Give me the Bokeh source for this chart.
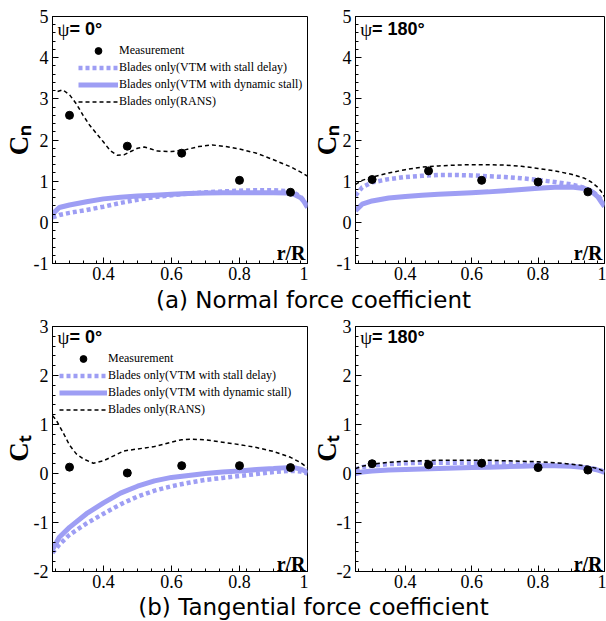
import numpy as np
from bokeh.plotting import figure
from bokeh.models import (Range1d, FixedTicker, Label, Legend, LegendItem,
                          CustomJSTickFormatter)
from bokeh.layouts import column, row
from bokeh.embed import file_html
from bokeh.resources import INLINE

# ---------------- data ----------------
r_sim = [0.25, 0.27, 0.30, 0.35, 0.40, 0.45, 0.50, 0.55, 0.60, 0.65,
         0.70, 0.75, 0.80, 0.85, 0.90, 0.94, 0.96, 0.98, 0.99, 1.00]

meas_r = [0.30, 0.47, 0.63, 0.80, 0.95]

# (a) Normal force coefficient, psi = 0
meas_cn_0 = [2.60, 1.85, 1.68, 1.02, 0.73]
sd_cn_0 = [0.12, 0.18, 0.23, 0.30, 0.38, 0.47, 0.55, 0.61, 0.66, 0.70,
           0.73, 0.75, 0.77, 0.78, 0.78, 0.76, 0.72, 0.62, 0.52, 0.38]
ds_cn_0 = [0.20, 0.36, 0.42, 0.50, 0.57, 0.61, 0.64, 0.66, 0.68, 0.70,
           0.71, 0.72, 0.72, 0.72, 0.72, 0.71, 0.68, 0.60, 0.50, 0.36]
rans_r_cn_0 = [0.265, 0.28, 0.30, 0.32, 0.34, 0.36, 0.38, 0.40, 0.42, 0.44,
               0.46, 0.48, 0.50, 0.52, 0.54, 0.56, 0.60, 0.64, 0.68, 0.72,
               0.76, 0.80, 0.85, 0.90, 0.95, 0.98, 1.00]
rans_cn_0 = [3.18, 3.22, 3.10, 2.88, 2.60, 2.35, 2.15, 1.95, 1.74, 1.63,
             1.64, 1.72, 1.80, 1.83, 1.78, 1.73, 1.72, 1.76, 1.84, 1.88,
             1.84, 1.78, 1.68, 1.52, 1.35, 1.22, 1.12]

# (a) Normal force coefficient, psi = 180
meas_cn_180 = [1.04, 1.25, 1.02, 0.98, 0.74]
sd_cn_180 = [0.65, 0.85, 0.97, 1.05, 1.10, 1.13, 1.15, 1.15, 1.14, 1.12,
             1.10, 1.07, 1.03, 0.98, 0.92, 0.84, 0.77, 0.65, 0.55, 0.42]
ds_cn_180 = [0.28, 0.44, 0.52, 0.59, 0.63, 0.66, 0.68, 0.70, 0.72, 0.74,
             0.77, 0.80, 0.83, 0.85, 0.86, 0.82, 0.76, 0.62, 0.50, 0.38]
rans_cn_180 = [0.92, 1.02, 1.10, 1.20, 1.28, 1.34, 1.37, 1.39, 1.40, 1.40,
               1.39, 1.36, 1.31, 1.25, 1.17, 1.07, 0.98, 0.85, 0.75, 0.62]

# (b) Tangential force coefficient, psi = 0
meas_ct_0 = [0.13, 0.01, 0.16, 0.16, 0.12]
sd_ct_0 = [-1.62, -1.45, -1.25, -1.02, -0.82, -0.63, -0.47, -0.35, -0.26, -0.19,
           -0.13, -0.09, -0.05, -0.01, 0.03, 0.05, 0.05, 0.04, 0.02, 0.00]
ds_ct_0 = [-1.55, -1.30, -1.10, -0.82, -0.60, -0.40, -0.26, -0.15, -0.08, -0.04,
           0.00, 0.03, 0.05, 0.08, 0.10, 0.12, 0.12, 0.09, 0.06, 0.02]
rans_r_ct_0 = [0.25, 0.26, 0.28, 0.30, 0.32, 0.34, 0.37, 0.40, 0.43, 0.46,
               0.50, 0.55, 0.60, 0.63, 0.66, 0.70, 0.75, 0.80, 0.85, 0.90,
               0.95, 0.98, 1.00]
rans_ct_0 = [1.18, 1.10, 0.85, 0.58, 0.40, 0.30, 0.21, 0.26, 0.36, 0.46,
             0.50, 0.55, 0.64, 0.69, 0.70, 0.69, 0.64, 0.59, 0.53, 0.45,
             0.33, 0.22, 0.12]

# (b) Tangential force coefficient, psi = 180
meas_ct_180 = [0.20, 0.18, 0.21, 0.12, 0.07]
sd_ct_180 = [0.08, 0.13, 0.16, 0.19, 0.21, 0.22, 0.22, 0.22, 0.22, 0.21,
             0.21, 0.20, 0.19, 0.18, 0.16, 0.13, 0.11, 0.08, 0.06, 0.03]
ds_ct_180 = [0.00, 0.03, 0.05, 0.07, 0.08, 0.09, 0.10, 0.11, 0.12, 0.13,
             0.14, 0.15, 0.16, 0.16, 0.15, 0.12, 0.10, 0.07, 0.05, 0.02]
rans_ct_180 = [0.10, 0.15, 0.19, 0.23, 0.25, 0.26, 0.27, 0.27, 0.27, 0.27,
               0.26, 0.25, 0.24, 0.22, 0.19, 0.16, 0.13, 0.10, 0.07, 0.04]

x_ticks = [0.4, 0.6, 0.8, 1.0]
cn_ticks = [-1, 0, 1, 2, 3, 4, 5]
ct_ticks = [-2, -1, 0, 1, 2, 3]

legend_labels = ["Measurement",
                 "Blades only(VTM with stall delay)",
                 "Blades only(VTM with dynamic stall)",
                 "Blades only(RANS)"]

BLUE = "#9e9ef4"
SERIF = "Liberation Serif"
SANS = "Liberation Sans"
XPP = 256 / 0.75  # frame pixels per r/R unit


def make_panel(width, height, bl, br, bt, bb, ylo, yhi, yticks, ylabel,
               lab_standoff):
    p = figure(width=width, height=height, output_backend="svg",
               toolbar_location=None, min_border_left=bl, min_border_right=br,
               min_border_top=bt, min_border_bottom=bb,
               x_range=Range1d(0.25, 1.0), y_range=Range1d(ylo, yhi))
    p.grid.visible = False
    p.outline_line_color = "black"
    p.outline_line_width = 1
    p.background_fill_color = "white"
    p.border_fill_color = "white"
    xminor = [round(v, 2) for v in np.arange(0.26, 1.0, 0.04)]
    yminor = [round(v, 2) for v in np.arange(ylo, yhi + 0.001, 0.2)]
    p.xaxis.ticker = FixedTicker(ticks=x_ticks, minor_ticks=xminor)
    p.yaxis.ticker = FixedTicker(ticks=yticks, minor_ticks=yminor)
    fmt = "return (Math.round(tick*10)/10).toString();"
    for ax in (p.xaxis[0], p.yaxis[0]):
        ax.formatter = CustomJSTickFormatter(code=fmt)
        ax.major_tick_in = 6
        ax.major_tick_out = 0
        ax.minor_tick_in = 3
        ax.minor_tick_out = 0
        ax.axis_line_color = "black"
        ax.major_tick_line_color = "black"
        ax.minor_tick_line_color = "black"
        ax.major_label_text_font = SERIF
        ax.major_label_text_font_size = "18px"
        ax.major_label_text_color = "black"
    p.xaxis.major_label_standoff = 3
    p.yaxis.major_label_standoff = 4
    p.yaxis.axis_label = ylabel
    p.yaxis.axis_label_text_font = SERIF
    p.yaxis.axis_label_text_font_size = "27px"
    p.yaxis.axis_label_text_font_style = "bold"
    p.yaxis.axis_label_text_color = "black"
    p.yaxis.axis_label_standoff = lab_standoff
    return p


def draw_series(p, r_rans, rans, sd, ds, meas):
    rd = p.line(r_sim, ds, color=BLUE, line_width=5)
    rs = p.line(r_sim, sd, color=BLUE, line_width=4.5, line_dash="4 3")
    rr = p.line(r_rans, rans, color="black", line_width=1.5, line_dash="4 3")
    rm = p.scatter(meas_r, meas, size=8, color="black")
    return rm, rs, rd, rr


def add_legend(p, rends, loc, gw):
    items = [LegendItem(label=lab, renderers=[rend])
             for lab, rend in zip(legend_labels, rends)]
    leg = Legend(items=items, location=loc, glyph_width=gw, glyph_height=17,
                 label_height=17, spacing=0, padding=0, margin=0,
                 label_standoff=1, border_line_alpha=0,
                 background_fill_alpha=0, label_text_font=SERIF,
                 label_text_font_size="12px", label_text_color="black")
    p.add_layout(leg)


def add_texts(p, ylo, yhi, ppu, psi_text, psi_top_px, rr_mid_px):
    def ydat(px):  # px below the frame top
        return yhi - px / ppu
    p.add_layout(Label(x=0.25 + 5 / XPP, y=ydat(psi_top_px), text="ψ",
                       text_font=SERIF, text_font_size="19px",
                       text_baseline="top", text_align="left",
                       text_color="black"))
    p.add_layout(Label(x=0.25 + 17 / XPP, y=ydat(psi_top_px), text=psi_text,
                       text_font=SANS, text_font_size="18px",
                       text_font_style="bold", text_baseline="top",
                       text_align="left", text_color="black"))
    p.add_layout(Label(x=1.0 - 2 / XPP, y=ylo + rr_mid_px / ppu, text="r/R",
                       text_font=SERIF, text_font_size="20px",
                       text_font_style="bold", text_baseline="middle",
                       text_align="right", text_color="black"))


# ---- top row: Cn ----
p1 = make_panel(308, 285, 51, 1, 16, 22, -1, 5, cn_ticks, "Cₙ", -3)
r1 = draw_series(p1, rans_r_cn_0, rans_cn_0, sd_cn_0, ds_cn_0, meas_cn_0)
add_legend(p1, r1, (26, 153), 40)
add_texts(p1, -1, 5, 247 / 6, "= 0°", 2, 11)

p2 = make_panel(298, 285, 40, 2, 16, 22, -1, 5, cn_ticks, "Cₙ", -8)
draw_series(p2, r_sim, rans_cn_180, sd_cn_180, ds_cn_180, meas_cn_180)
add_texts(p2, -1, 5, 247 / 6, "= 180°", 2, 11)

# ---- bottom row: Ct ----
p3 = make_panel(308, 281, 51, 1, 14, 22, -2, 3, ct_ticks, "Cₜ", -3)
r3 = draw_series(p3, rans_r_ct_0, rans_ct_0, sd_ct_0, ds_ct_0, meas_ct_0)
add_legend(p3, r3, (7, 153), 48)
add_texts(p3, -2, 3, 49.0, "= 0°", 0, 8)

p4 = make_panel(298, 281, 40, 2, 14, 22, -2, 3, ct_ticks, "Cₜ", -8)
draw_series(p4, r_sim, rans_ct_180, sd_ct_180, ds_ct_180, meas_ct_180)
add_texts(p4, -2, 3, 49.0, "= 180°", 0, 8)


def caption(text, h, mid_from_top):
    c = figure(width=606, height=h, output_backend="svg", toolbar_location=None,
               x_range=Range1d(0, 606), y_range=Range1d(0, h),
               x_axis_type=None, y_axis_type=None, min_border=0)
    c.grid.visible = False
    c.outline_line_color = None
    c.add_layout(Label(x=313, y=h - mid_from_top, text=text,
                       text_font="DejaVu Sans", text_font_size="23px",
                       text_align="center", text_baseline="middle",
                       text_color="black"))
    return c


cap_a = caption("(a) Normal force coefficient", 27, 14)
cap_b = caption("(b) Tangential force coefficient", 28, 13)

layout = column(row(p1, p2), cap_a, row(p3, p4), cap_b)
open("out.html", "w").write(file_html(layout, INLINE))
